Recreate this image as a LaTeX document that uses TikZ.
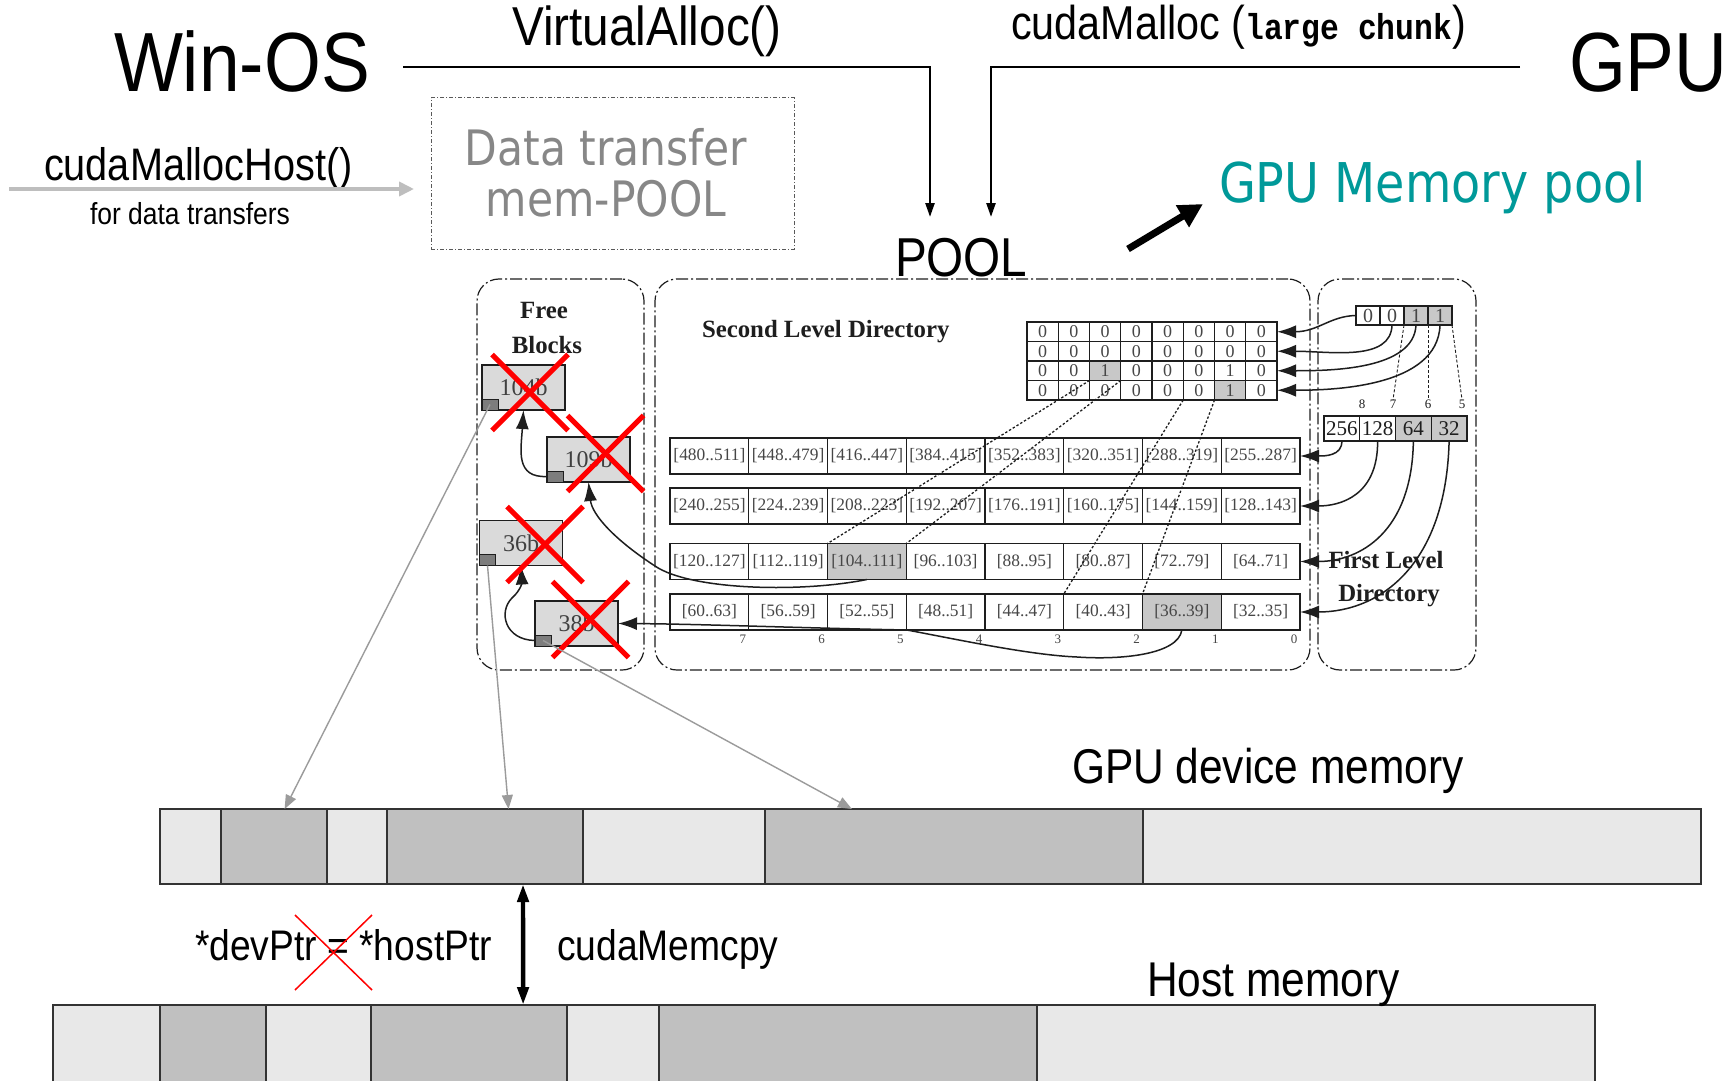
\documentclass[tikz,border=0pt]{standalone}
\usepackage{fontspec}
\setmainfont{Liberation Serif}
\newfontfamily\slidefont[FakeStretch=0.87]{Liberation Sans}
\newfontfamily\verdfont[FakeStretch=0.87]{DejaVu Sans}
\newfontfamily\codefont[FakeStretch=0.87]{Liberation Mono}
\newfontfamily\figfont{Liberation Serif}
\usetikzlibrary{arrows.meta,calc}

\definecolor{poolteal}{RGB}{0,153,153}
\definecolor{memlight}{RGB}{232,232,232}
\definecolor{memdark}{RGB}{192,192,192}
\definecolor{cellgray}{RGB}{200,200,200}
\definecolor{blockgray}{RGB}{218,218,218}
\definecolor{tagdark}{RGB}{125,125,125}
\definecolor{linkgray}{RGB}{155,155,155}
\definecolor{figink}{RGB}{30,30,30}
\definecolor{celltext}{RGB}{70,70,70}
\definecolor{fadedtext}{RGB}{135,135,135}
\definecolor{hostarrow}{RGB}{190,190,190}

\begin{document}
\begin{tikzpicture}[x=0.5pt,y=-0.5pt,
  every node/.style={inner sep=0pt,outer sep=0pt},
  bigword/.style={font={\slidefont\fontsize{42}{46}\selectfont},anchor=base west},
  callword/.style={font={\slidefont\fontsize{27.4}{30}\selectfont}},
  lowword/.style={font={\slidefont\fontsize{21.4}{24}\selectfont},anchor=base west},
  memword/.style={font={\slidefont\fontsize{24.4}{28}\selectfont},anchor=base west},
  allocline/.style={line width=1.2pt,-{Triangle[length=7pt,width=4.5pt]}},
  dashbox/.style={draw=figink,line width=0.6pt,rounded corners=11pt,
    dash pattern=on 6pt off 1.5pt on 1pt off 1.5pt},
  figtitle/.style={font={\figfont\bfseries\fontsize{12.4}{14}\selectfont},text=figink},
  rcell/.style={draw=figink,fill=white,line width=0.65pt,minimum width=39.375pt,
    minimum height=18pt,font={\figfont\fontsize{8.7}{10}\selectfont},text=celltext},
  bcell/.style={draw=figink,line width=0.55pt,minimum width=15.625pt,minimum height=9.75pt,
    font={\figfont\fontsize{9}{10}\selectfont},text=celltext},
  fcell/.style={draw=figink,line width=0.55pt,minimum width=12pt,minimum height=9.5pt,
    font={\figfont\fontsize{10}{11}\selectfont},text=celltext},
  scell/.style={draw=figink,line width=0.6pt,minimum width=17.875pt,minimum height=12.5pt,
    font={\figfont\fontsize{10.5}{11}\selectfont},text=figink},
  idx/.style={font={\figfont\fontsize{6.5}{7}\selectfont},text=celltext},
  fblock/.style={draw=figink,fill=blockgray,line width=0.65pt,minimum width=41.5pt,
    minimum height=22.5pt,font={\figfont\fontsize{12}{13}\selectfont},text=figink!85},
  ftag/.style={draw=figink,fill=tagdark,line width=0.5pt,minimum width=8pt,minimum height=5.5pt},
  figlink/.style={draw=figink,line width=0.75pt,-{Latex[length=9.5pt,width=6.5pt]}},
  projline/.style={draw=figink,line width=0.65pt,dash pattern=on 1.2pt off 1pt},
  tickline/.style={draw=figink,line width=0.45pt,dash pattern=on 1.5pt off 1pt},
  linkarrow/.style={draw=linkgray,line width=0.7pt,-{Triangle[length=7pt,width=5.5pt]}},
  redx/.style={draw=red,line width=2.5pt},
  memseg/.style={draw=black!80,line width=0.75pt,minimum height=37.5pt},
  hostseg/.style={draw=black!80,line width=0.75pt,minimum height=45pt}]

\useasboundingbox (0,0) rectangle (1730,1081);
\clip (0,0) rectangle (1730,1081);
\fill[white] (0,0) rectangle (1730,1081);

% ---------- top row: sources of memory ----------
\node[bigword] (winos) at (114,92) {Win-OS};
\node[bigword] (gpu) at (1569,92) {GPU};
\node[callword,anchor=base] (valloc) at (647,46) {VirtualAlloc()};
\node[font={\slidefont\fontsize{23.75}{28}\selectfont},anchor=base west] (cmalloc) at (1011,40)
  {cudaMalloc ({\codefont\bfseries\fontsize{18}{20}\selectfont large chunk})};
\node[callword,anchor=base west] (pool) at (895,276) {POOL};

\coordinate (vaL) at (403,67);
\coordinate (vaTip) at (930,217);
\coordinate (cmR) at (1520,67);
\coordinate (cmTip) at (991,217);
\draw[allocline] (vaL) -| (vaTip);
\draw[allocline] (cmR) -| (cmTip);

% pinned host memory for transfers
\node[font={\slidefont\fontsize{22.8}{26}\selectfont},anchor=base west] (cmhost) at (44,180) {cudaMallocHost()};
\node[font={\slidefont\fontsize{15.2}{18}\selectfont},anchor=base west] (fordt) at (90,224) {for data transfers};
\node[draw=black!65,line width=0.5pt,dash pattern=on 2pt off 1pt on 0.5pt off 1pt,
  minimum width=181.5pt,minimum height=75.5pt] (dtbox) at (612.5,173.5) {};
\node[font={\verdfont\fontsize{24.4}{28}\selectfont},text=fadedtext,anchor=base] (dtline1) at (606,165.5) {Data transfer};
\node[font={\verdfont\fontsize{24.4}{28}\selectfont},text=fadedtext,anchor=base] (dtline2) at (606,216) {mem-POOL};
\coordinate (cmhA) at (9,189);
\coordinate (cmhB) at (414,189);
\draw[line width=2.4pt,hostarrow,-{Triangle[length=7.5pt,width=7pt]}] (cmhA) -- (cmhB);

\node[font={\verdfont\fontsize{27.4}{30}\selectfont},text=poolteal,anchor=base west] (gpupool) at (1219,202) {GPU Memory pool};
\coordinate (gpA) at (1128,249);
\coordinate (gpB) at (1203,204);
\draw[line width=3.5pt,-{Triangle[length=12pt,width=12pt]}] (gpA) -- (gpB);

% ---------- pool structure ----------
\node[dashbox,minimum width=83.5pt,minimum height=195.5pt] (fbframe) at (560.5,474.5) {};
\node[dashbox,minimum width=327.5pt,minimum height=195.5pt] (sldframe) at (982.5,474.5) {};
\node[dashbox,minimum width=79pt,minimum height=195.5pt] (fldframe) at (1397,474.5) {};

\node[figtitle] (freelbl) at (544,310) {Free};
\node[figtitle] (blockslbl) at (547,345) {Blocks};
\node[figtitle,anchor=west] (sldlbl) at (702,332) {Second Level Directory};

% range table
\foreach \lab [count=\c] in {{[480..511]},{[448..479]},{[416..447]},{[384..415]},{[352..383]},{[320..351]},{[288..319]},{[255..287]}}
  \node[rcell] (t-1-\c) at ({670+78.75*(\c-0.5)},456) {\lab};
\foreach \lab [count=\c] in {{[240..255]},{[224..239]},{[208..223]},{[192..207]},{[176..191]},{[160..175]},{[144..159]},{[128..143]}}
  \node[rcell] (t-2-\c) at ({670+78.75*(\c-0.5)},506) {\lab};
\foreach \lab/\fc [count=\c] in {{[120..127]}/white,{[112..119]}/white,{[104..111]}/cellgray,{[96..103]}/white,{[88..95]}/white,{[80..87]}/white,{[72..79]}/white,{[64..71]}/white}
  \node[rcell,fill=\fc] (t-3-\c) at ({670+78.75*(\c-0.5)},561.5) {\lab};
\foreach \lab/\fc [count=\c] in {{[60..63]}/white,{[56..59]}/white,{[52..55]}/white,{[48..51]}/white,{[44..47]}/white,{[40..43]}/white,{[36..39]}/cellgray,{[32..35]}/white}
  \node[rcell,fill=\fc] (t-4-\c) at ({670+78.75*(\c-0.5)},612) {\lab};
\foreach \lab [count=\k] in {7,6,5,4,3,2,1,0}
  \node[idx] (ix-\lab) at ({670+78.75*\k-6},639) {\lab};

% second level bitmap
\foreach \r/\yc in {1/331.75,2/351.25}
  \foreach \c in {1,...,8}
    \node[bcell,fill=white] (bm-\r-\c) at ({1027+31.25*(\c-0.5)},\yc) {0};
\foreach \v/\fc [count=\c] in {0/white,0/white,1/cellgray,0/white,0/white,0/white,1/white,0/white}
  \node[bcell,fill=\fc] (bm-3-\c) at ({1027+31.25*(\c-0.5)},370.75) {\v};
\foreach \v/\fc [count=\c] in {0/white,0/white,0/white,0/white,0/white,0/white,1/cellgray,0/white}
  \node[bcell,fill=\fc] (bm-4-\c) at ({1027+31.25*(\c-0.5)},390.25) {\v};

% first level bitmap and size classes
\foreach \v/\fc [count=\c] in {0/white,0/white,1/cellgray,1/cellgray}
  \node[fcell,fill=\fc] (fb-\c) at ({1356+24*(\c-0.5)},315.5) {\v};
\foreach \v/\fc [count=\c] in {256/white,128/white,64/cellgray,32/cellgray}
  \node[scell,fill=\fc] (sz-\c) at ({1324+35.75*(\c-0.5)},428.5) {\v};
\node[idx,text=figink] (lbl8) at (1362,404) {8};
\node[idx,text=figink] (lbl7) at (1393,404) {7};
\node[idx,text=figink] (lbl6) at (1428,404) {6};
\node[idx,text=figink] (lbl5) at (1462,404) {5};
\draw[tickline] (fb-3.south west) -- (lbl7.north);
\draw[tickline] (fb-4.south west) -- (lbl6.north);
\draw[tickline] (fb-4.south east) -- (lbl5.north);

% first level bits point at bitmap rows
\draw[figlink] (fb-1.west) .. controls (1330,316) and (1318,331.75) .. (bm-1-8.east);
\draw[figlink] (fb-2.south) .. controls (1391,362) and (1330,351.25) .. (bm-2-8.east);
\draw[figlink] (fb-3.south) .. controls (1414,370) and (1330,370.75) .. (bm-3-8.east);
\draw[figlink] (fb-4.south) .. controls (1438,388) and (1330,390.25) .. (bm-4-8.east);

% size classes point at table rows
\draw[figlink] (sz-1.south) .. controls (1342,456) and (1325,456) .. (t-1-8.east);
\draw[figlink] (sz-2.south) .. controls (1378,496) and (1340,506) .. (t-2-8.east);
\draw[figlink] (sz-3.south) .. controls (1412,532) and (1360,561.5) .. (t-3-8.east);
\draw[figlink] (sz-4.south) .. controls (1446,565) and (1380,612) .. (t-4-8.east);

% bitmap cells expand into table ranges
\draw[projline] (bm-3-3.south west) -- (t-3-3.north west);
\draw[projline] (bm-3-3.south east) -- (t-3-3.north east);
\draw[projline] (bm-4-6.south west) -- (t-4-6.north west);
\draw[projline] (bm-4-6.south east) -- (t-4-6.north east);

% free blocks
\node[fblock] (b104) at (523.5,387.5) {104b};
\node[fblock] (b109) at (588.5,459.5) {109b};
\node[fblock] (b36) at (521,543) {36b};
\node[fblock] (b38) at (576.5,623.5) {38b};
\node[ftag,anchor=south west] (t104) at (b104.south west) {};
\node[ftag,anchor=south west] (t109) at (b109.south west) {};
\node[ftag,anchor=south west] (t36) at (b36.south west) {};
\node[ftag,anchor=south west] (t38) at (b38.south west) {};

\draw[figlink] (t-3-3.south) .. controls (800,593) and (690,590) .. (655,566)
  .. controls (615,540) and (592,515) .. (b109.south);
\draw[figlink] (t109.west) .. controls (515,478) and (521,450) .. (b104.south);
\draw[figlink] (t-4-7.south) .. controls (1178,655) and (1120,660) .. (1077,657)
  .. controls (1030,655) and (960,640) .. (907,630)
  .. controls (800,628) and (700,624) .. (b38.east);
\draw[figlink] (t38.west) .. controls (505,640) and (498,612) .. (512,598)
  .. controls (521,590) and (522,582) .. (b36.south);

\node[figtitle] (fl1) at (1386,560) {First Level};
\node[figtitle] (fl2) at (1389,596) {Directory};

% crossed out blocks
\coordinate (x104) at (530,392.5);
\coordinate (x109) at (605.5,453.5);
\coordinate (x36) at (545,544.5);
\coordinate (x38) at (590.5,619.5);
\foreach \p in {x104,x109,x36,x38}{
  \draw[redx] (\p) ++(-38,-38) -- ++(76,76);
  \draw[redx] (\p) ++(-38,38) -- ++(76,-76);
}

% ---------- device and host memory ----------
\node[memword] (gdmlbl) at (1072,783) {GPU device memory};
\foreach \cx/\w/\fc [count=\k] in {190.5/30.5/memlight,274/53/memdark,357/30/memlight,485/98/memdark,674/91/memlight,954/189/memdark,1422/279/memlight}
  \node[memseg,fill=\fc,minimum width=\w pt] (g-\k) at (\cx,846.5) {};
\foreach \cx/\w/\fc [count=\k] in {106.5/53.5/memlight,213/53/memdark,318.5/52.5/memlight,469/98/memdark,613/46/memlight,848/189/memdark,1316/279/memlight}
  \node[hostseg,fill=\fc,minimum width=\w pt] (h-\k) at (\cx,1050) {};
\node[memword] (hostlbl) at (1147,996) {Host memory};

\draw[linkarrow] (t104.center) -- ($(g-2.north west)!0.6!(g-2.north east)$);
\draw[linkarrow] (t36.south) -- ($(g-4.north west)!0.62!(g-4.north east)$);
\draw[linkarrow] (t38.center) -- ($(g-6.north west)!0.23!(g-6.north east)$);

\draw[line width=2.2pt,{Triangle[length=9pt,width=5.5pt]}-{Triangle[length=9pt,width=5.5pt]}]
  ($(g-4.south west)!0.694!(g-4.south east)$) -- ($(h-4.north west)!0.776!(h-4.north east)$);
\node[lowword] (cpylbl) at (557,960) {cudaMemcpy};
\node[lowword] (ptrlbl) at (195,960) {*devPtr = *hostPtr};
\coordinate (eqx) at (333.5,952.5);
\draw[red,line width=0.75pt] (eqx) ++(-38.5,-37.5) -- ++(77,75);
\draw[red,line width=0.75pt] (eqx) ++(-38.5,37.5) -- ++(77,-75);
\end{tikzpicture}
\end{document}
